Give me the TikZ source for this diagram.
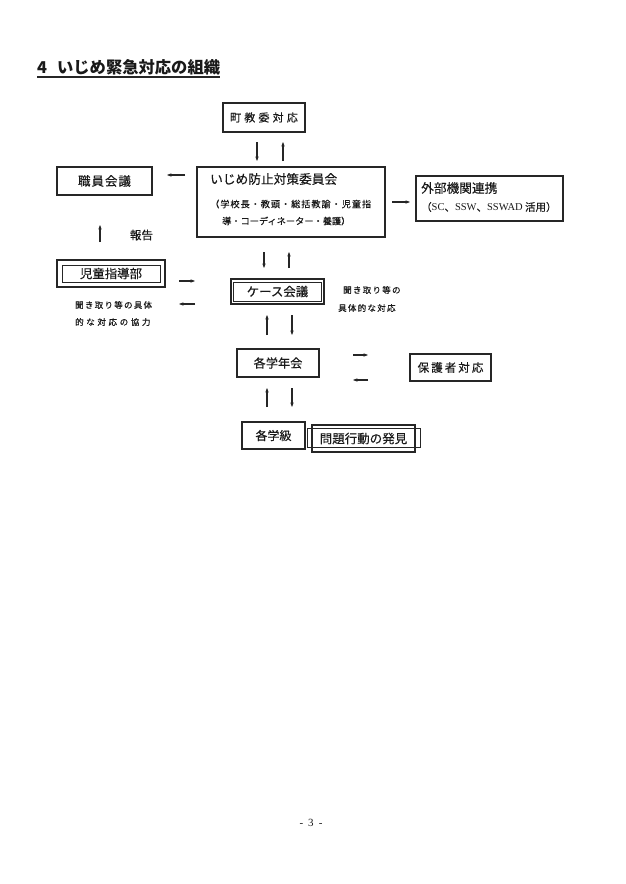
\documentclass[tikz,border=0pt]{standalone}
\usepackage{fontspec}
\setmainfont{Noto Sans CJK JP}[UprightFeatures={FakeBold=0.3}]
\newfontfamily\lserif{Liberation Serif}
\usetikzlibrary{arrows.meta}

\tikzset{
	box/.style={draw=black!85, line width=1.3pt, inner sep=0pt, text=black!90},
	arr/.style={-{Stealth[length=4.5pt,width=3.4pt]}, line width=1.2pt, draw=black!85},
	txt/.style={inner sep=0pt, text=black!90},
	note/.style={inner sep=0pt, anchor=west, text=black!90, font=\fontsize{8.5}{10}\selectfont}
}

\begin{document}
\begin{tikzpicture}[x=1pt, y=-1pt]
			\fill[white] (0,0) rectangle (625,884);
			\useasboundingbox (0,0) rectangle (625,884);
			\node[txt, anchor=west, font=\fontsize{16.3}{18}\selectfont\bfseries] (title) at (37,67) {4\hspace{10pt}いじめ緊急対応の組織};
			\draw[line width=1.2pt, black!85] ([yshift=-2pt]title.south west) -- ([yshift=-2pt]title.south east);
			\node[box, minimum width=82pt, minimum height=29pt, font=\fontsize{11}{13}\selectfont] (town) at (264,117.5) {\addfontfeature{LetterSpace=29}町教委対応};
			\node[box, minimum width=188pt, minimum height=70pt] (committee) at (291,202) {};
			\node[txt, anchor=west, font=\fontsize{12.7}{14}\selectfont] (committee_T) at (210,179) {いじめ防止対策委員会};
			\node[txt, anchor=west, font=\fontsize{9.2}{11}\selectfont] (committee_A) at (210,204) {\addfontfeature{LetterSpace=10}（学校長・教頭・総括教諭・児童指};
			\node[txt, anchor=west, font=\fontsize{9.2}{11}\selectfont] (committee_B) at (222,221) {導・コーディネーター・養護）};
			\node[box, minimum width=95pt, minimum height=28pt, font=\fontsize{12.5}{14}\selectfont] (staff) at (104.5,181) {\addfontfeature{LetterSpace=8}職員会議};
			\node[txt, font=\fontsize{11.5}{13}\selectfont] (report) at (141.5,235) {報告};
			\node[box, minimum width=147pt, minimum height=45pt] (outside) at (489.5,198.5) {};
			\node[txt, anchor=west, font=\fontsize{12.7}{14}\selectfont] (outside_T) at (421,188) {外部機関連携};
			\node[txt, anchor=west, font=\fontsize{10.5}{12}\selectfont] (outside_A) at (421,207) {（{\lserif SC}、{\lserif SSW}、{\lserif SSWAD} 活用）};
			\node[box, minimum width=108pt, minimum height=27pt] (guidance) at (111,273.5) {};
			\node[box, line width=1pt, minimum width=98pt, minimum height=17pt, font=\fontsize{12.4}{14}\selectfont] (guidance_in) at (guidance) {児童指導部};
			\node[note, font=\fontsize{8.5}{10}\selectfont\addfontfeature{LetterSpace=15}] (guidance_A) at (75,305) {聞き取り等の具体};
			\node[note, font=\fontsize{8.5}{10}\selectfont\addfontfeature{LetterSpace=31}] (guidance_B) at (75,322) {的な対応の協力};
			\node[box, line width=2.6pt, minimum width=93pt, minimum height=25pt] (case) at (277.5,291.5) {};
			\node[box, line width=1pt, minimum width=88pt, minimum height=19pt, font=\fontsize{12.4}{14}\selectfont] (case_in) at (case) {ケース会議};
			\node[note, font=\fontsize{8.5}{10}\selectfont\addfontfeature{LetterSpace=15}] (case_A) at (343,290) {聞き取り等の};
			\node[note, font=\fontsize{8.5}{10}\selectfont\addfontfeature{LetterSpace=15}] (case_B) at (338,308) {具体的な対応};
			\node[box, minimum width=82pt, minimum height=28pt, font=\fontsize{12.2}{14}\selectfont] (grade) at (278,363) {各学年会};
			\node[box, minimum width=81pt, minimum height=27pt, font=\fontsize{11.5}{13}\selectfont] (parents) at (450.5,367.5) {\addfontfeature{LetterSpace=18}保護者対応};
			\node[box, minimum width=63pt, minimum height=27pt, font=\fontsize{12}{14}\selectfont] (class) at (273.5,435.5) {各学級};
			\node[box, line width=1pt, minimum width=113pt, minimum height=19pt] (discovery) at (363.5,437.5) {};
			\node[box, line width=1.8pt, minimum width=103pt, minimum height=27pt, font=\fontsize{12.5}{14}\selectfont] (discovery_in) at (363.5,438.5) {問題行動の発見};
			\node[txt, font=\lserif\fontsize{11}{13}\selectfont] (page) at (311,823) {-\hspace{5pt}3\hspace{5pt}-};
			\foreach \xa/\ya/\xb/\yb [count=\i] in {257/142/257/161, 283/161/283/142, 185/175/167/175, 100/242/100/225, 392/202/410/202, 264/252/264/268, 289/268/289/252, 179/281/195/281, 195/304/179/304, 267/335/267/315, 292/315/292/335, 267/407/267/388, 292/388/292/407, 353/355/368/355, 368/380/353/380} {
				\coordinate (from\i) at (\xa,\ya);
				\coordinate (to\i) at (\xb,\yb);
				\draw[arr] (from\i) -- (to\i);
			}
		\end{tikzpicture}
\end{document}
